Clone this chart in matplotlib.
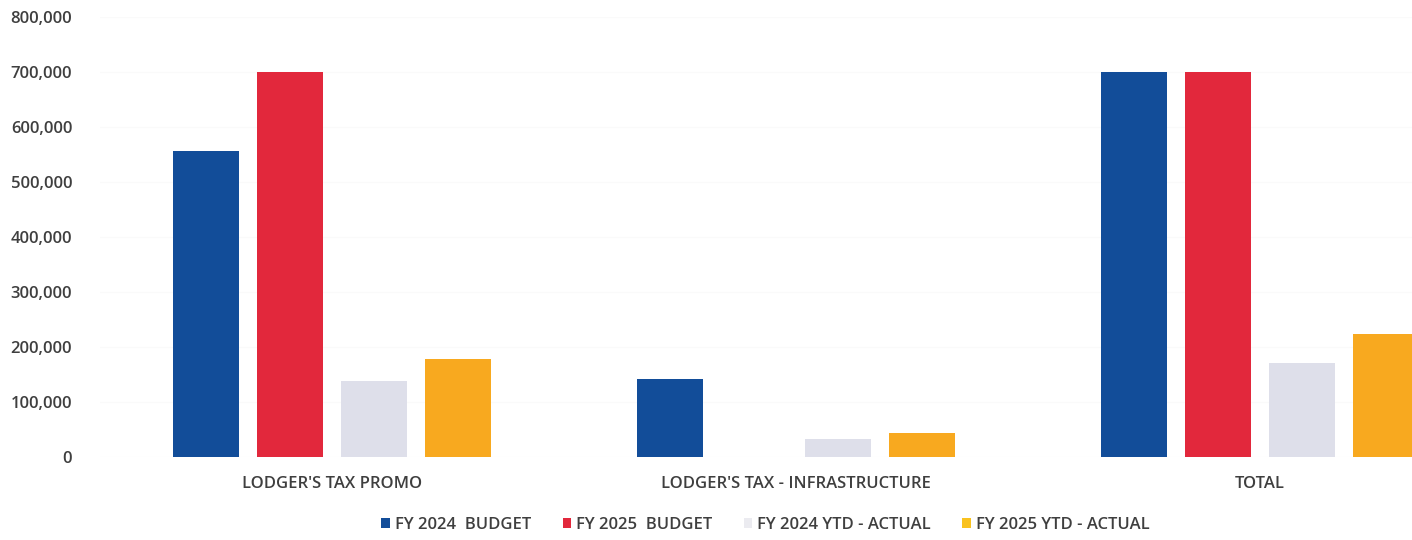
from matplotlib import pyplot as plt
from matplotlib.patches import Patch
from matplotlib.ticker import FuncFormatter
import numpy as np

categories = ["LODGER'S TAX PROMO", "LODGER'S TAX - INFRASTRUCTURE", "TOTAL"]
series_names = ['FY 2024  BUDGET', 'FY 2025  BUDGET', 'FY 2024 YTD - ACTUAL', 'FY 2025 YTD - ACTUAL']
fy24_budget = [556000, 142000, 700000]
fy25_budget = [700000, 0, 700000]
fy24_actual = [138000, 33000, 171000]
fy25_actual = [178000, 44000, 224000]

colors = ['#124d99', '#e2283c', '#dedfea', '#f8a91f']
legend_colors = ['#124d99', '#e2283c', '#ebebf0', '#f9c21f']
text_color = '#3f3f3f'

plt.rcParams['font.family'] = ['Open Sans', 'DejaVu Sans']
plt.rcParams['font.weight'] = 'semibold'

fig = plt.figure(figsize=(14.12, 5.4), dpi=100)
ax = fig.add_axes([100 / 1412, 83 / 540, 1312 / 1412, 440 / 540])

x = np.arange(len(categories))
pitch = 0.181
width = 0.142
all_series = [fy24_budget, fy25_budget, fy24_actual, fy25_actual]
for i, vals in enumerate(all_series):
    ax.bar(x + (i - 1.5) * pitch, vals, width=width, color=colors[i], zorder=3)

ax.set_xlim(-0.5, 2.328)
ax.set_ylim(0, 800000)
ax.set_yticks(range(0, 800001, 100000))
ax.yaxis.set_major_formatter(FuncFormatter(lambda v, p: f'{int(v):,}'))
ax.set_xticks(x)
ax.set_xticklabels(categories)
ax.grid(axis='y', color='#fafafa', linewidth=0.8, zorder=0)
for s in ax.spines.values():
    s.set_visible(False)
ax.tick_params(axis='both', length=0, colors=text_color, labelsize=12)
ax.tick_params(axis='y', pad=20)
ax.tick_params(axis='x', pad=14)

handles = [Patch(facecolor=c, edgecolor='none') for c in legend_colors]
fig.legend(handles, series_names, loc='center', bbox_to_anchor=(0.542, 0.028), ncol=4,
           frameon=False, fontsize=12, labelcolor=text_color,
           handlelength=0.5, handleheight=0.5, handletextpad=0.3, columnspacing=1.9)

fig.savefig('out.png', dpi=100)
